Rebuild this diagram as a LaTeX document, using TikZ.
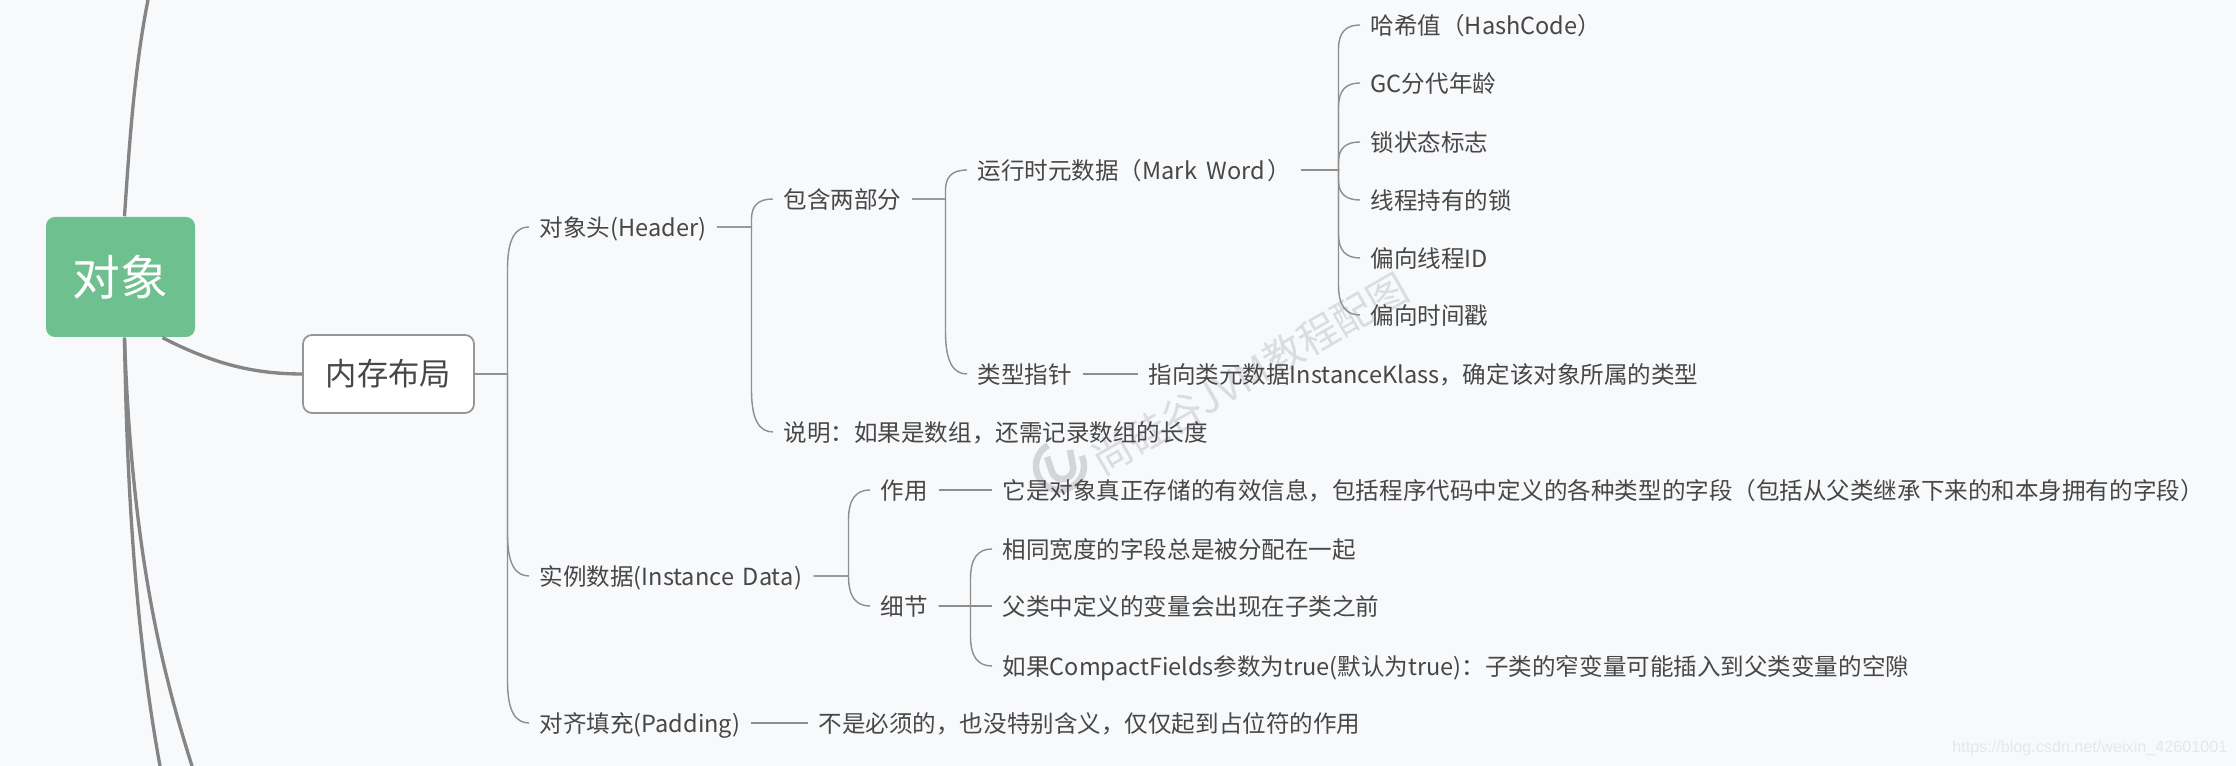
\documentclass[tikz,border=0pt]{standalone}
\usepackage{fontspec}
\setmainfont{Noto Sans CJK SC}
\newfontfamily\urlfont{Liberation Sans}
\usetikzlibrary{calc, positioning}
\definecolor{pagebg}{HTML}{F8F9FB}
\definecolor{rootgreen}{HTML}{6EC08F}
\definecolor{bigline}{HTML}{858585}
\definecolor{thinline}{HTML}{8E8E8E}
\definecolor{boxline}{HTML}{969696}
\definecolor{labeltext}{HTML}{474747}
\definecolor{stamp}{HTML}{DADCDF}
\definecolor{stamplogo}{HTML}{D3D5D8}
\definecolor{urlgray}{HTML}{E6E7EA}

\begin{document}
\begin{tikzpicture}[y=-1cm, node distance=0.1cm]
	\tikzstyle{root} = [fill=rootgreen, rounded corners=0.09cm, minimum width=1.49cm, minimum height=1.2cm, inner sep=0pt, text=white, font=\fontsize{13.6}{15}\selectfont]
	\tikzstyle{topic} = [draw=boxline, line width=0.5pt, fill=white, rounded corners=0.09cm, minimum width=1.71cm, minimum height=0.78cm, inner sep=0pt, text=labeltext, font=\fontsize{8.9}{10}\selectfont]
	\tikzstyle{item} = [anchor=west, inner xsep=0.1cm, inner ysep=0pt, text height=6.8pt, text depth=1.6pt, text=labeltext, font=\fontsize{6.7}{8}\selectfont]
	\tikzstyle{main} = [draw=bigline, line width=0.95pt]
	\tikzstyle{link} = [to path={(\tikztostart.east) -- (\tikztotarget.west)}]
	\tikzset{fork/.style={to path={let \p1=(\tikztostart.east), \p2=(\tikztotarget.west) in (\p1) -- (\x2-0.215cm,\y1) -- (\x2-0.215cm,\y2+#1) .. controls (\x2-0.215cm,\y2+0.3*#1) and (\x2-0.14cm,\y2) .. (\p2)}}}

	\path[use as bounding box, fill=pagebg] (0,0) rectangle (22.36,7.66);

	\node[rotate=30, text=stamp, font=\fontsize{11.4}{13}\selectfont, inner sep=0pt] (mark) at (12.50,3.74) {尚硅谷JVM教程配图};
	\draw[stamplogo, line width=0.065cm, shift={(10.60,4.66)}]
		(-120:0.24) arc[start angle=-120, end angle=-385, radius=0.24]
		(-0.13,-0.09) -- (-0.08,0.06) arc[start angle=200, end angle=380, x radius=0.11, y radius=-0.11] -- (0.1,-0.16);

	\node[root] (object) at (1.205,2.77) {对象};
	\node[topic] (layout) at (3.885,3.74) {内存布局};

	\coordinate (upper) at (1.48,0);
	\coordinate (lower1) at (1.60,7.66);
	\coordinate (lower2) at (1.92,7.66);

	\node[item] (header) at (5.29,2.27) {对象头(Header)};
	\node[item] (parts) at (7.73,1.99) {包含两部分};
	\node[item] (markword) at (9.67,1.70) {运行时元数据（Mark\hspace{1.2pt} Word\hspace{0.6pt}）};
	\node[item] (hash) at (13.60,0.25) {哈希值（HashCode）};
	\node[item] (age) at (13.60,0.83) {GC分代年龄};
	\node[item] (state) at (13.60,1.42) {锁状态标志};
	\node[item] (owner) at (13.60,2.00) {线程持有的锁};
	\node[item] (thread) at (13.60,2.58) {偏向线程ID};
	\node[item] (stampy) at (13.60,3.15) {偏向时间戳};
	\node[item] (pointer) at (9.67,3.74) {类型指针};
	\node[item] (klass) at (11.38,3.74) {指向类元数据InstanceKlass，确定该对象所属的类型};
	\node[item] (note) at (7.73,4.32) {说明：如果是数组，还需记录数组的长度};
	\node[item] (instance) at (5.29,5.76) {实例数据(Instance\hspace{1pt} Data\hspace{0.4pt})};
	\node[item] (usage) at (8.70,4.90) {作用};
	\node[item] (usagetext) at (9.92,4.90) {它是对象真正存储的有效信息，包括程序代码中定义的各种类型的字段（包括从父类继承下来的和本身拥有的字段）};
	\node[item] (detail) at (8.70,6.06) {细节};
	\node[item] (same) at (9.92,5.49) {相同宽度的字段总是被分配在一起};
	\node[item] (parent) at (9.92,6.06) {父类中定义的变量会出现在子类之前};
	\node[item] (compact) at (9.92,6.66) {如果CompactFields参数为true(默认为true)：子类的窄变量可能插入到父类变量的空隙};
	\node[item] (padding) at (5.29,7.23) {对齐填充(Padding)};
	\node[item] (paddingtext) at (8.08,7.23) {不是必须的，也没特别含义，仅仅起到占位符的作用};

	\draw[main] ([xshift=0.04cm]object.north) .. controls (1.29,1.50) and (1.34,0.70) .. (upper);
	\draw[main] ([xshift=0.04cm]object.south) .. controls (1.27,5.00) and (1.37,6.40) .. (lower1);
	\draw[main] ([xshift=0.04cm]object.south) .. controls (1.32,5.60) and (1.65,6.80) .. (lower2);
	\draw[main] ([xshift=0.42cm]object.south) .. controls (2.10,3.62) and (2.50,3.74) .. (layout.west);

	\path[draw=thinline, line width=0.4pt]
		(layout) edge[fork=-0.42cm] (header)
		(layout) edge[fork=0.42cm] (instance)
		(layout) edge[fork=0.42cm] (padding)

		(header) edge[fork=-0.2cm] (parts)
		(header) edge[fork=0.42cm] (note)

		(parts) edge[fork=-0.2cm] (markword)
		(parts) edge[fork=0.42cm] (pointer)
		(pointer) edge[link] (klass)

		(markword) edge[fork=-0.24cm] (hash)
		(markword) edge[fork=-0.24cm] (age)
		(markword) edge[fork=-0.2cm] (state)
		(markword) edge[fork=0.2cm] (owner)
		(markword) edge[fork=0.24cm] (thread)
		(markword) edge[fork=0.3cm] (stampy)

		(instance) edge[fork=-0.3cm] (usage)
		(instance) edge[fork=0.3cm] (detail)
		(usage) edge[link] (usagetext)

		(detail) edge[fork=-0.3cm] (same)
		(detail) edge[link] (parent)
		(detail) edge[fork=0.3cm] (compact)

		(padding) edge[link] (paddingtext)
	;

	\node[anchor=east, inner sep=0pt, text=urlgray, font=\urlfont\fontsize{4.6}{5}\selectfont] (source) at (22.28,7.48) {https://blog.csdn.net/weixin\_42601001};
\end{tikzpicture}
\end{document}
